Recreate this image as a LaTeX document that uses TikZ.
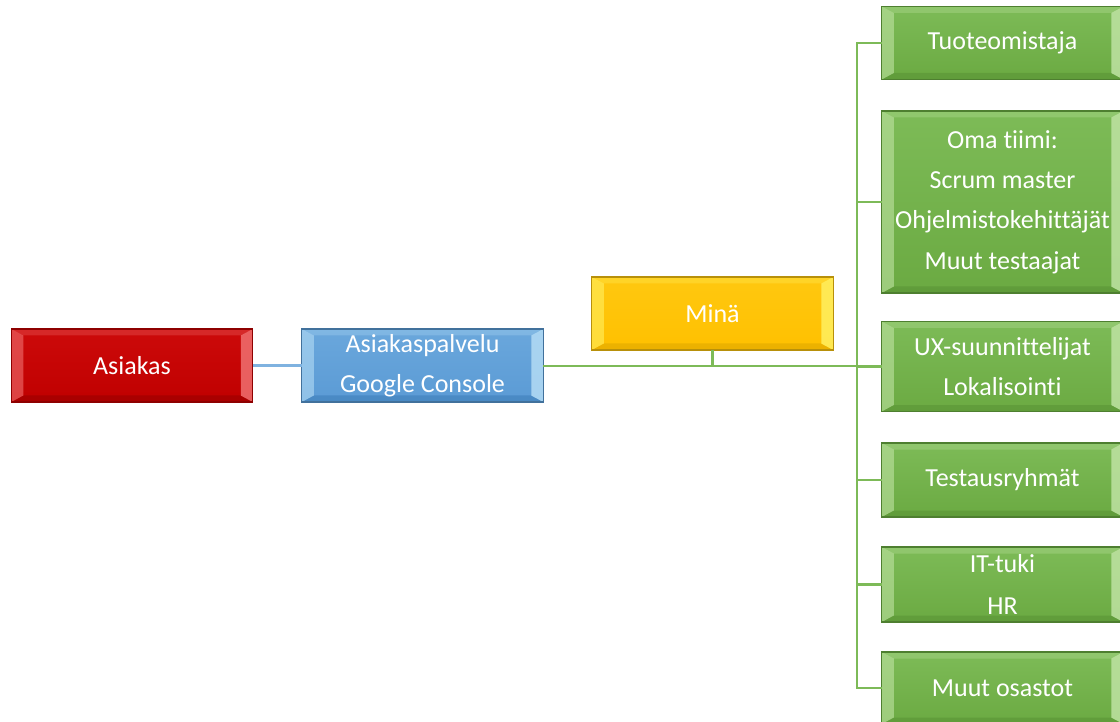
\documentclass[tikz,border=0pt]{standalone}
\usepackage{fontspec}
\setmainfont{Carlito}[Ligatures=NoCommon]
\usepackage{tikz}
\usetikzlibrary{positioning,calc}
\definecolor{redfill}{HTML}{C00000}
\definecolor{redtop}{HTML}{CC0A0A}
\definecolor{redline}{HTML}{8E0000}
\definecolor{redlite}{HTML}{F07070}
\definecolor{reddark}{HTML}{9A0000}
\definecolor{bluefill}{HTML}{5B9BD5}
\definecolor{bluetop}{HTML}{6AA7DC}
\definecolor{blueline}{HTML}{41719C}
\definecolor{bluelite}{HTML}{B4DCF5}
\definecolor{bluedark}{HTML}{3F7FBA}
\definecolor{yelfill}{HTML}{FFC000}
\definecolor{yeltop}{HTML}{FFC810}
\definecolor{yelline}{HTML}{B8900A}
\definecolor{yellite}{HTML}{FFF060}
\definecolor{yeldark}{HTML}{E0A800}
\definecolor{grnfill}{HTML}{6BAA42}
\definecolor{grntop}{HTML}{7DBB57}
\definecolor{grnline}{HTML}{4E7F30}
\definecolor{grnlite}{HTML}{BFE3A3}
\definecolor{grndark}{HTML}{5A9436}
\definecolor{linkblue}{HTML}{7FB2E0}
\definecolor{linkgreen}{HTML}{7DBA58}

\begin{document}
\begin{tikzpicture}[
    bevel/.style 2 args={path picture={
        \coordinate (pnw) at (path picture bounding box.north west);
        \coordinate (pne) at (path picture bounding box.north east);
        \coordinate (psw) at (path picture bounding box.south west);
        \coordinate (pse) at (path picture bounding box.south east);
        \fill[#1, opacity=0.3] (pnw) -- (pne) -- ($(pne)+(-0.24,-0.13)$) -- ($(pnw)+(0.24,-0.13)$) -- cycle;
        \fill[#2, opacity=0.6] (psw) -- (pse) -- ($(pse)+(-0.24,0.13)$) -- ($(psw)+(0.24,0.13)$) -- cycle;
        \fill[#1, opacity=0.6] (pnw) -- ($(pnw)+(0.24,-0.13)$) -- ($(psw)+(0.24,0.13)$) -- (psw) -- cycle;
        \fill[#1, opacity=0.85] (pne) -- ($(pne)+(-0.24,-0.13)$) -- ($(pse)+(-0.24,0.13)$) -- (pse) -- cycle;
    }},
    box/.style={draw, line width=0.8pt, align=center, text=white, inner sep=0pt, outer sep=0pt,
        minimum width=4.83cm, minimum height=1.46cm, font=\fontsize{14.8}{23}\selectfont},
    redbox/.style={box, top color=redtop, bottom color=redfill, draw=redline, bevel={redlite}{reddark}},
    bluebox/.style={box, top color=bluetop, bottom color=bluefill, draw=blueline, bevel={bluelite}{bluedark}},
    yelbox/.style={box, top color=yeltop, bottom color=yelfill, draw=yelline, bevel={yellite}{yeldark}},
    grnbox/.style={box, top color=grntop, bottom color=grnfill, draw=grnline, bevel={grnlite}{grndark}},
    link/.style={line width=1.3pt}
]
\useasboundingbox (0,0) rectangle (22.4,-14.44);
\clip (0,0) rectangle (22.4,-14.44);

\node[redbox] (asiakas) at (2.64,-7.31) {Asiakas};
\node[bluebox] (palvelu) at (8.45,-7.31) {Asiakaspalvelu\\Google Console};
\node[yelbox] (mina) at (14.25,-6.27) {Minä};

\node[grnbox] (owner) at (20.05,-0.86) {Tuoteomistaja};
\node[grnbox, minimum height=3.64cm] (team) at (20.05,-4.04) {Oma tiimi:\\Scrum master\\Ohjelmistokehittäjät\\Muut testaajat};
\node[grnbox, minimum height=1.8cm] (ux) at (20.05,-7.33) {UX-suunnittelijat\\Lokalisointi};
\node[grnbox, minimum height=1.48cm] (testers) at (20.05,-9.6) {Testausryhmät};
\node[grnbox, minimum height=1.5cm, font=\fontsize{14.8}{24}\selectfont] (ithr) at (20.05,-11.69) {IT-tuki\\HR};
\node[grnbox, minimum height=1.44cm] (others) at (20.05,-13.76) {Muut osastot};

\coordinate (bus) at (17.14,-7.32);

\draw[link, linkblue] (asiakas) -- (palvelu);
\draw[link, linkgreen] (palvelu.east |- bus) -- (bus);
\draw[link, linkgreen] (mina.south) -- (mina.south |- bus);
\foreach \g in {owner, team, ux, testers, ithr, others}
    \draw[link, linkgreen] (bus) |- (\g.west);
\end{tikzpicture}
\end{document}
